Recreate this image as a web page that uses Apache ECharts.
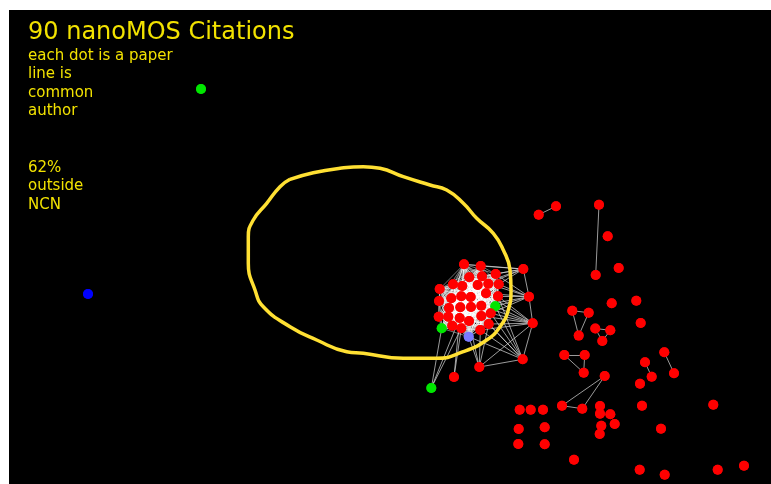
<!DOCTYPE html>
<html>
<head>
    <meta charset="utf-8">
    <title>nanoMOS citations</title>
    <script src="https://cdn.jsdelivr.net/npm/echarts@6/dist/echarts.min.js"></script>
    <style>
        html, body { margin: 0; padding: 0; background: #fff; }
    </style>
</head>
<body>
<div id="main" style="width: 771px;height:484px;"></div>
<script type="text/javascript">
    // paper positions, kind: 0 red, 1 green, 2 blue, 3 light blue
    var paperX = [
        464, 480.7, 469.3, 482, 495.7, 439.7, 453, 462.3, 477.7, 488.3,
        498.7, 439, 451.3, 461.3, 470.7, 486, 498, 449, 460.3, 471,
        481.3, 495.3, 438.7, 448.3, 459.7, 469, 481.3, 490.7, 441.7, 452.3,
        461.3, 480.3, 488.7, 468.7,
        523.3, 529, 532.7, 522.7, 479.3, 454, 431.3,
        201, 88,
        538.7, 556, 599, 595.7, 607.7, 618.7, 611.7, 636.3, 640.7, 572.3,
        588.7, 578.7, 595.3, 610.3, 602.3, 564.3, 584.7, 583.7, 604.7, 562,
        582.3, 664.3, 674, 645, 651.7, 640, 642, 713.3, 661, 519.7,
        530.7, 543, 518.7, 544.7, 518.3, 544.7, 600, 600, 610.3, 601.3,
        614.7, 599.7, 574, 639.7, 664.7, 717.7, 744
    ];
    var paperY = [
        264.3, 266, 277.3, 276.3, 274, 289, 284.3, 286, 285, 283.7,
        284.3, 301, 298.3, 296.3, 297, 293.3, 296.3, 308, 307.3, 307,
        305.7, 306.3, 316.7, 316.7, 318, 321, 316, 313.3, 328.3, 325.7,
        328.3, 330, 324, 336.7,
        269, 296.7, 323.3, 359.3, 367, 377, 388,
        89, 294,
        214.7, 206.3, 204.7, 275, 236.3, 268, 303.3, 300.7, 323, 310.7,
        312.7, 335.6, 328.5, 330.3, 341, 355, 355, 372.7, 376, 405.7,
        408.7, 352.3, 373.3, 362.3, 376.7, 383.7, 405.7, 404.7, 428.7, 409.7,
        409.7, 409.7, 429, 427.3, 444, 444.3, 406, 413.7, 414.3, 425.7,
        424, 434, 459.7, 469.7, 474.7, 469.7, 465.7
    ];
    var paperKind = [];
    for (var k = 0; k < paperX.length; k++) paperKind.push(0);
    paperKind[21] = 1; paperKind[28] = 1; paperKind[40] = 1; paperKind[41] = 1;
    paperKind[42] = 2; paperKind[33] = 3;
    var kindColor = ['#ff0000', '#00e600', '#0000ff', '#7b7bff'];

    // the tight group: every paper shares an author with every other
    var coreCount = 34;
    // links from the ring around the group
    var ringLinks = [
        [34, 0], [34, 1], [34, 3], [34, 4], [34, 8], [34, 9], [34, 10], [34, 35],
        [35, 4], [35, 9], [35, 10], [35, 15], [35, 16], [35, 20], [35, 21], [35, 27], [35, 36],
        [36, 15], [36, 16], [36, 20], [36, 21], [36, 26], [36, 27], [36, 31], [36, 32], [36, 37], [36, 38],
        [37, 16], [37, 21], [37, 26], [37, 27], [37, 31], [37, 32], [37, 33], [37, 38],
        [38, 25], [38, 31], [38, 32], [38, 33],
        [39, 30], [39, 24], [40, 24], [40, 28], [40, 30]
    ];
    // small groups on the right
    var sideLinks = [
        [43, 44], [45, 46], [52, 53], [52, 54], [53, 54], [55, 56], [55, 57], [56, 57],
        [58, 59], [58, 60], [59, 60], [61, 62], [61, 63], [62, 63], [64, 65], [66, 67]
    ];

    // hand-drawn loop round the NCN group
    var loopX = [290, 313.3, 340, 363.3, 380, 403.3, 430, 446.7, 463.3, 476.7, 493.3, 503.3,
        510, 511, 508.3, 500, 486.7, 463.3, 436.7, 403.3, 363.3, 346.7, 316.7, 290,
        263.3, 255, 248.3, 248.3, 253.3, 266.7, 280, 290];
    var loopY = [179.3, 172.7, 168.3, 166.7, 168.3, 176.7, 185, 190, 203.3, 218.3, 233.3, 250,
        270, 290, 310, 326.7, 340, 351.7, 358.3, 358.3, 353.3, 351.7, 340, 326.7,
        306.7, 290, 263.3, 236.7, 220, 203.3, 186.7, 179.3];

    var nodes = [];
    for (var i = 0; i < paperX.length; i++) {
        nodes.push({ value: [paperX[i], paperY[i]], itemStyle: { color: kindColor[paperKind[i]] } });
    }
    var links = [];
    for (var a = 0; a < coreCount; a++) {
        for (var b = a + 1; b < coreCount; b++) {
            links.push({ source: a, target: b, lineStyle: { color: '#ffffff', width: 0.6, opacity: 0.75 } });
        }
    }
    ringLinks.forEach(function (p) {
        links.push({ source: p[0], target: p[1], lineStyle: { color: '#d8d8d8', width: 0.8, opacity: 0.9 } });
    });
    sideLinks.forEach(function (p) {
        links.push({ source: p[0], target: p[1], lineStyle: { color: '#9a9a9a', width: 1, opacity: 1 } });
    });
    var loop = loopX.map(function (x, j) { return [x, loopY[j]]; });

    var chart = echarts.init(document.getElementById('main'));
    chart.setOption({
        backgroundColor: '#ffffff',
        animation: false,
        grid: {
            left: 9, top: 10, right: 0, bottom: 0,
            show: true, backgroundColor: '#000000', borderWidth: 0
        },
        xAxis: { type: 'value', min: 9, max: 771, show: false },
        yAxis: { type: 'value', min: 10, max: 484, inverse: true, show: false },
        graphic: [
            {
                type: 'text', left: 28, top: 21, z: 10,
                style: { text: '90 nanoMOS Citations', fill: '#f2e200', font: '24px "DejaVu Sans"' }
            },
            {
                type: 'text', left: 28, top: 47, z: 10,
                style: {
                    text: 'each dot is a paper\nline is\ncommon\nauthor',
                    fill: '#f2e200', font: '15px "DejaVu Sans"', lineHeight: 18.4
                }
            },
            {
                type: 'text', left: 28, top: 159, z: 10,
                style: {
                    text: '62%\noutside\nNCN',
                    fill: '#f2e200', font: '15px "DejaVu Sans"', lineHeight: 18.4
                }
            }
        ],
        series: [
            {
                type: 'graph',
                coordinateSystem: 'cartesian2d',
                layout: 'none',
                z: 1,
                symbolSize: 10,
                data: nodes,
                links: links,
                label: { show: false },
                emphasis: { disabled: true }
            },
            {
                type: 'line',
                z: 2,
                data: loop,
                smooth: 0.5,
                symbol: 'none',
                lineStyle: { color: '#ffe033', width: 3.5 }
            },
            {
                type: 'scatter',
                z: 3,
                symbolSize: 10,
                data: nodes
            }
        ]
    });
</script>
</body>
</html>
